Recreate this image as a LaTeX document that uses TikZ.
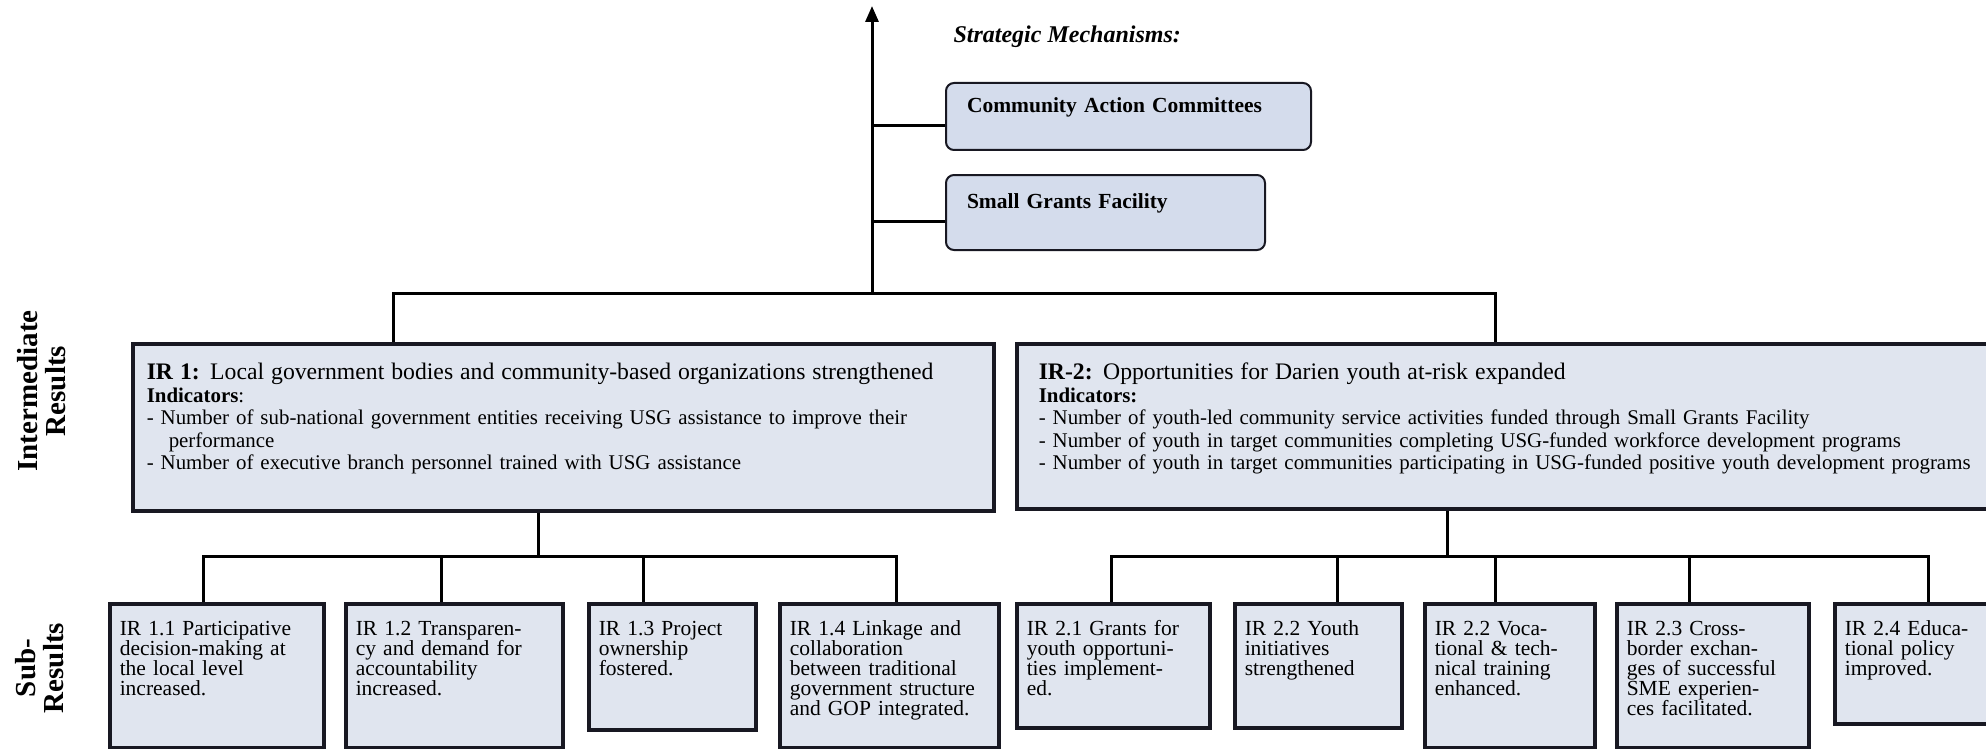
\documentclass[tikz,border=0pt]{standalone}
\usepackage{fontspec}
\setmainfont{Liberation Serif}
\usepackage{tikz}
\usetikzlibrary{arrows.meta,positioning,calc}
\definecolor{boxfill}{RGB}{224,229,239}
\definecolor{mechfill}{RGB}{212,220,236}
\definecolor{boxline}{RGB}{24,24,34}

\begin{document}
\begin{tikzpicture}[x=1pt,y=-1pt,
  irbox/.style={draw=boxline,line width=3.5pt,fill=boxfill,anchor=north west,align=left,
    font=\fontsize{20.9}{22.5}\selectfont,inner ysep=0pt,text height=36pt},
  subres/.style={draw=boxline,line width=3.5pt,fill=boxfill,anchor=north west,align=left,
    font=\fontsize{21.5}{20}\selectfont,inner xsep=10pt,inner ysep=0pt,text height=32pt},
  mech/.style={draw=boxline,line width=2pt,fill=mechfill,rounded corners=8pt,anchor=north west,align=left,
    font=\bfseries\fontsize{21.5}{22}\selectfont,inner xsep=21pt,inner ysep=0pt},
  link/.style={line width=3pt,black},
  side/.style={rotate=90,align=center,font=\bfseries\fontsize{29}{28}\selectfont}
]
\useasboundingbox (0,0) rectangle (1986,749);
\clip (0,0) rectangle (1986,749);

% strategic mechanisms
\node[anchor=base west,font=\bfseries\itshape\fontsize{24}{28}\selectfont] (mechtitle) at (950,43) {Strategic Mechanisms:};
\node[mech,text width=323pt,text height=30pt,text depth=37pt] (cac) at (945,82) {Community Action Committees};
\node[mech,text width=277pt,text height=33pt,text depth=42pt] (sgf) at (945,174) {Small Grants Facility};

% side labels
\node[side] (lblir) at (42,391) {Intermediate\\Results};
\node[side] (lblsub) at (40,668) {Sub-\\Results};

% intermediate results
\node[irbox,inner xsep=14pt,text width=833pt,text depth=131pt] (ir1) at (131,342) {{\fontsize{23.7}{22.5}\selectfont\textbf{IR 1:} Local government bodies and community-based organizations strengthened}\\
\textbf{Indicators}:\\
- Number of sub-national government entities receiving USG assistance to improve their\\
\hspace*{22pt}performance\\
- Number of executive branch personnel trained with USG assistance};
\node[irbox,inner xsep=22pt,text width=960pt,text depth=129pt] (ir2) at (1015,342) {{\fontsize{23.7}{22.5}\selectfont\textbf{IR-2:} Opportunities for Darien youth at-risk expanded}\\
\textbf{Indicators:}\\
- Number of youth-led community service activities funded through Small Grants Facility\\
- Number of youth in target communities completing USG-funded workforce development programs\\
- Number of youth in target communities participating in USG-funded positive youth development programs};

% sub-results
\node[subres,text width=194pt,text depth=112pt] (s11) at (108,602) {IR 1.1 Participative\\decision-making at\\the local level\\increased.};
\node[subres,text width=197pt,text depth=112pt] (s12) at (344,602) {IR 1.2 Transparen-\\cy and demand for\\accountability\\increased.};
\node[subres,text width=147pt,text depth=94pt] (s13) at (587,602) {IR 1.3 Project\\ownership\\fostered.};
\node[subres,text width=199pt,text depth=112pt] (s14) at (778,602) {IR 1.4 Linkage and\\collaboration\\between traditional\\government structure\\and GOP integrated.};
\node[subres,text width=173pt,text depth=92pt] (s21) at (1015,602) {IR 2.1 Grants for\\youth opportuni-\\ties implement-\\ed.};
\node[subres,text width=147pt,text depth=92pt] (s22) at (1233,602) {IR 2.2 Youth\\initiatives\\strengthened};
\node[subres,text width=150pt,text depth=112pt] (s23) at (1423,602) {IR 2.2 Voca-\\tional \& tech-\\nical training\\enhanced.};
\node[subres,text width=172pt,text depth=112pt] (s24) at (1615,602) {IR 2.3 Cross-\\border exchan-\\ges of successful\\SME experien-\\ces facilitated.};
\node[subres,text width=150pt,text depth=88pt] (s25) at (1833,602) {IR 2.4 Educa-\\tional policy\\improved.};

% connectors
\coordinate (base) at (872,293);
\coordinate (tip) at (872,6);
\coordinate (c1) at (872,126);
\coordinate (c2) at (872,221);
\draw[link,-{Triangle[length=16pt,width=13pt]}] (base) -- (tip);
\draw[link] (c1) -- (c1 -| cac.west);
\draw[link] (c2) -- (c2 -| sgf.west);
\coordinate (d1) at (393,293);
\coordinate (d2) at (1495,293);
\draw[link] (d1 |- ir1.north) -- (d1) -- (d2) -- (d2 |- ir2.north);

\coordinate (j1) at (538,556);
\coordinate (d11) at (203,556);
\coordinate (d12) at (441,556);
\coordinate (d13) at (643,556);
\coordinate (d14) at (896,556);
\draw[link] (j1 |- ir1.south) -- (j1);
\draw[link] (d11 |- s11.north) -- (d11) -- (d14) -- (d14 |- s14.north);
\draw[link] (d12) -- (d12 |- s12.north);
\draw[link] (d13) -- (d13 |- s13.north);

\coordinate (j2) at (1447,556);
\coordinate (d21) at (1111,556);
\coordinate (d22) at (1337,556);
\coordinate (d23) at (1495,556);
\coordinate (d24) at (1689,556);
\coordinate (d25) at (1928,556);
\draw[link] (j2 |- ir2.south) -- (j2);
\draw[link] (d21 |- s21.north) -- (d21) -- (d25) -- (d25 |- s25.north);
\draw[link] (d22) -- (d22 |- s22.north);
\draw[link] (d23) -- (d23 |- s23.north);
\draw[link] (d24) -- (d24 |- s24.north);
\end{tikzpicture}
\end{document}
